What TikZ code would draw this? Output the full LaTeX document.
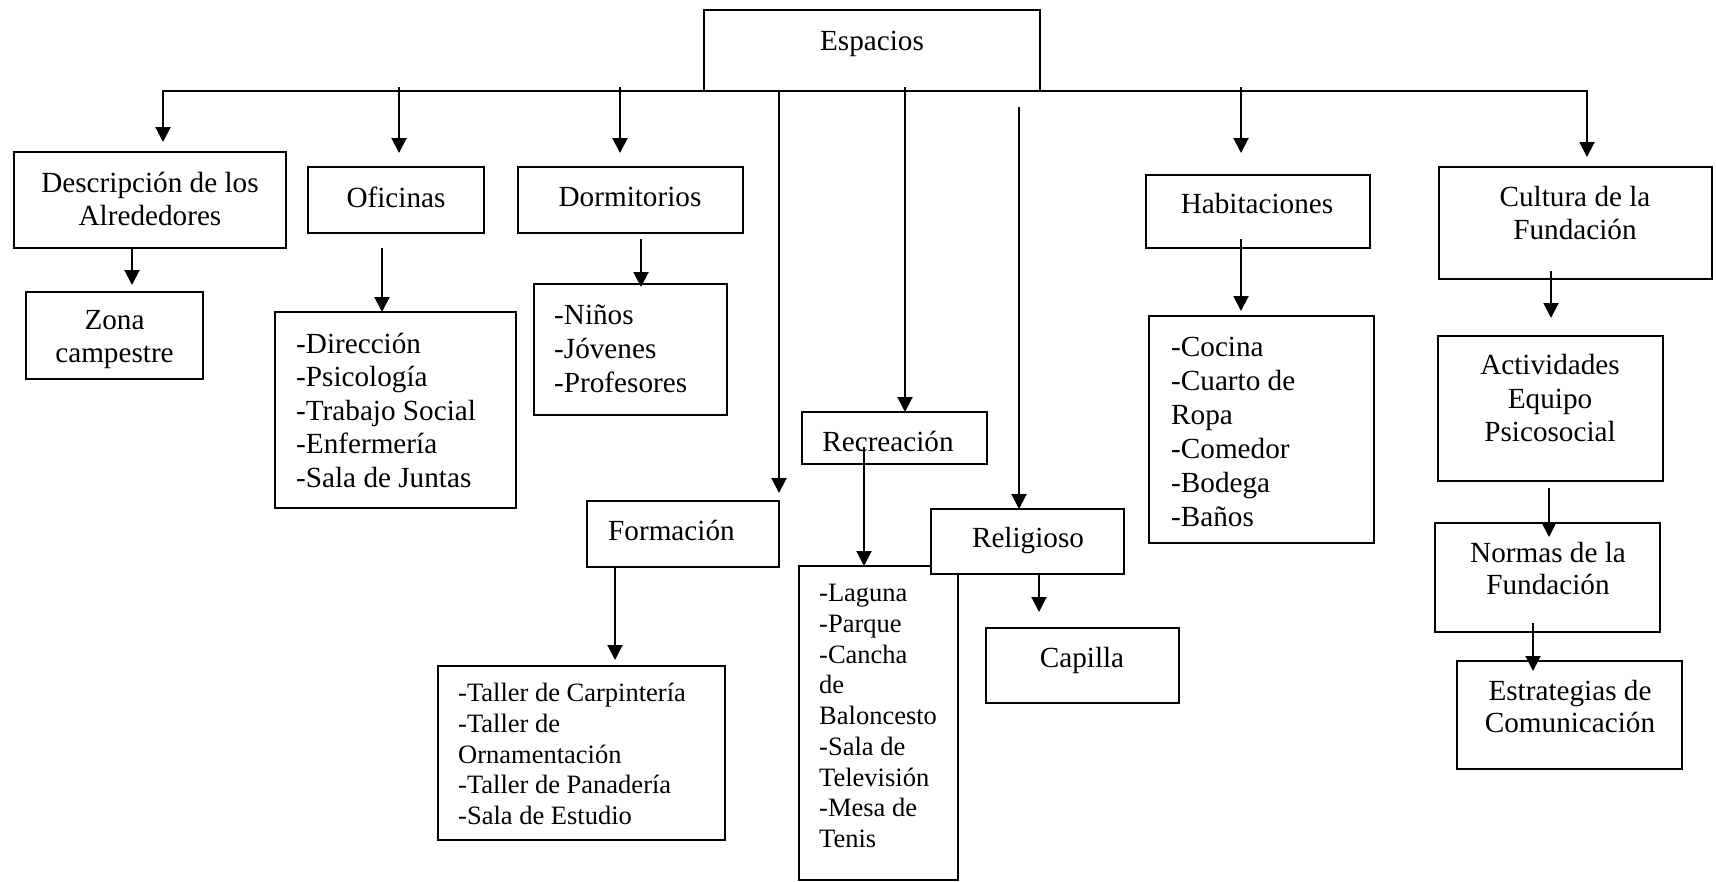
\documentclass[tikz,border=0pt]{standalone}
\usepackage{fontspec}
\setmainfont{Liberation Serif}
\usetikzlibrary{arrows.meta,fit}
\begin{document}
\begin{tikzpicture}[x=1pt,y=-1pt,
  box/.style={draw, line width=2pt, fill=white, inner sep=0pt, outer sep=0pt},
  txt/.style={inner sep=0pt, align=center, font=\fontsize{29.2}{33.5}\selectfont},
  lst/.style={inner sep=0pt, anchor=west, align=left, font=\fontsize{29.2}{33.5}\selectfont},
  small/.style={font=\fontsize{26.5}{30.6}\selectfont},
  arr/.style={line width=2pt, -{Triangle[length=15pt,width=15pt]}}]
\useasboundingbox (0,0) rectangle (1716,881);

% boxes
\node[box, fit={(704,10) (1040,91)}] (esp) {};
\node[box, fit={(14,152) (286,248)}] (desc) {};
\node[box, fit={(308,167) (484,233)}] (ofi) {};
\node[box, fit={(518,167) (743,233)}] (dorm) {};
\node[box, fit={(26,292) (203,379)}] (zona) {};
\node[box, fit={(275,312) (516,508)}] (ofil) {};
\node[box, fit={(534,284) (727,415)}] (dorml) {};
\node[box, fit={(587,501) (779,567)}] (form) {};
\node[box, fit={(438,666) (725,840)}] (taller) {};
\node[box, fit={(802,412) (987,464)}] (recr) {};
\node[box, fit={(799,566) (958,880)}] (recl) {};
\node[box, fit={(931,509) (1124,574)}] (reli) {};
\node[box, fit={(986,628) (1179,703)}] (cap) {};
\node[box, fit={(1146,175) (1370,248)}] (hab) {};
\node[box, fit={(1149,316) (1374,543)}] (habl) {};
\node[box, fit={(1439,167) (1712,279)}] (cult) {};
\node[box, fit={(1438,336) (1663,481)}] (act) {};
\node[box, fit={(1435,523) (1660,632)}] (norm) {};
\node[box, fit={(1457,661) (1682,769)}] (estr) {};

% texts
\node[txt] (esp-t) at (872,44) {Espacios};
\node[txt, font=\fontsize{29.2}{33}\selectfont] (desc-t) at (150,199) {Descripción de los\\Alrededores};
\node[txt] (ofi-t) at (396,197) {Oficinas};
\node[txt] (dorm-t) at (630,197) {Dormitorios};
\node[txt, font=\fontsize{29.2}{33}\selectfont] (zona-t) at (114.5,339.5) {Zona\\campestre};
\node[lst] (ofil-t) at (296,410) {-Dirección\\-Psicología\\-Trabajo Social\\-Enfermería\\-Sala de Juntas};
\node[lst, font=\fontsize{29.2}{34}\selectfont] (dorml-t) at (554,349) {-Niños\\-Jóvenes\\-Profesores};
\node[lst] (form-t) at (608,530) {Formación};
\node[lst, small] (taller-t) at (458,754) {-Taller de Carpintería\\-Taller de\\Ornamentación\\-Taller de Panadería\\-Sala de Estudio};
\node[txt] (recr-t) at (888,441) {Recreación};
\node[lst, font=\fontsize{26.5}{30.75}\selectfont] (recl-t) at (819,716) {-Laguna\\-Parque\\-Cancha\\de\\Baloncesto\\-Sala de\\Televisión\\-Mesa de\\Tenis};
\node[txt] (reli-t) at (1028,541) {Religioso};
\node[txt] (cap-t) at (1082,660) {Capilla};
\node[txt] (hab-t) at (1257,204) {Habitaciones};
\node[lst, font=\fontsize{29.2}{34}\selectfont] (habl-t) at (1171,432) {-Cocina\\-Cuarto de\\Ropa\\-Comedor\\-Bodega\\-Baños};
\node[txt, font=\fontsize{29.2}{33}\selectfont] (cult-t) at (1575,213.5) {Cultura de la\\Fundación};
\node[txt] (act-t) at (1550,398.5) {Actividades\\Equipo\\Psicosocial};
\node[txt, font=\fontsize{29.2}{32}\selectfont] (norm-t) at (1548,569) {Normas de la\\Fundación};
\node[txt, font=\fontsize{29.2}{32}\selectfont] (estr-t) at (1570,707) {Estrategias de\\Comunicación};

% arrow end points
\coordinate (desc-in) at (163,142);
\coordinate (cult-in) at (1587,157);
\coordinate (ofi-s) at (399,87);   \coordinate (ofi-in) at (399,153);
\coordinate (dorm-s) at (620,87);  \coordinate (dorm-in) at (620,153);
\coordinate (form-s) at (779,91);  \coordinate (form-in) at (779,493);
\coordinate (recr-s) at (905,87);
\coordinate (reli-s) at (1019,107);
\coordinate (hab-s) at (1241,87);  \coordinate (hab-in) at (1241,153);
\coordinate (zona-s) at (132,248); \coordinate (zona-in) at (132,285);
\coordinate (ofil-s) at (382,248);
\coordinate (dorml-s) at (641,239); \coordinate (dorml-in) at (641,287);
\coordinate (taller-s) at (615,567); \coordinate (taller-in) at (615,660);
\coordinate (recl-s) at (864,447); \coordinate (recl-in) at (864,566);
\coordinate (cap-s) at (1039,574); \coordinate (cap-in) at (1039,612);
\coordinate (habl-s) at (1241,239); \coordinate (habl-in) at (1241,311);
\coordinate (act-s) at (1551,271); \coordinate (act-in) at (1551,318);
\coordinate (norm-s) at (1549,488); \coordinate (norm-in) at (1549,537);
\coordinate (estr-s) at (1533,623); \coordinate (estr-in) at (1533,671);

% connectors
\draw[arr] (esp.south west) -| (desc-in);
\draw[arr] (esp.south east) -| (cult-in);
\draw[arr] (ofi-s) -- (ofi-in);
\draw[arr] (dorm-s) -- (dorm-in);
\draw[arr] (form-s) -- (form-in);
\draw[arr] (recr-s) -- (recr-s |- recr.north);
\draw[arr] (reli-s) -- (reli-s |- reli.north);
\draw[arr] (hab-s) -- (hab-in);
\draw[arr] (zona-s) -- (zona-in);
\draw[arr] (ofil-s) -- (ofil-s |- ofil.north);
\draw[arr] (dorml-s) -- (dorml-in);
\draw[arr] (taller-s) -- (taller-in);
\draw[arr] (recl-s) -- (recl-in);
\draw[arr] (cap-s) -- (cap-in);
\draw[arr] (habl-s) -- (habl-in);
\draw[arr] (act-s) -- (act-in);
\draw[arr] (norm-s) -- (norm-in);
\draw[arr] (estr-s) -- (estr-in);
\end{tikzpicture}
\end{document}
